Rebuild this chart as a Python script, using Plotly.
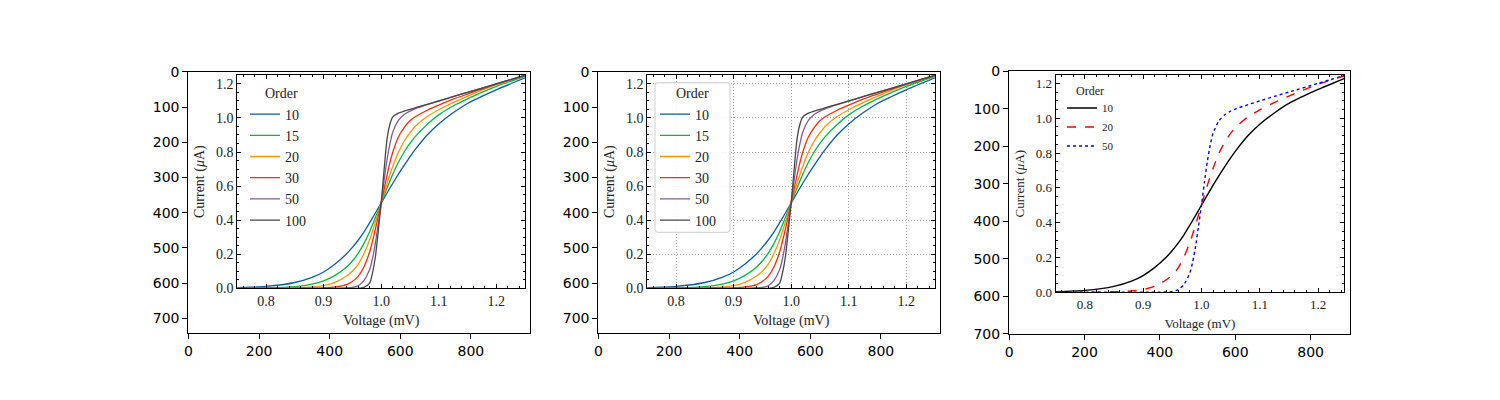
import plotly.graph_objects as go

# ---------------- data ----------------
voltage = [0.75, 0.80, 0.85, 0.88, 0.90, 0.92, 0.94, 0.95, 0.96, 0.97, 0.98, 0.985,
           0.99, 0.995, 1.00, 1.005, 1.01, 1.015, 1.02, 1.03, 1.04, 1.05, 1.06,
           1.08, 1.10, 1.125, 1.15, 1.20, 1.25]

current_10 = [0.004, 0.011, 0.034, 0.064, 0.096, 0.143, 0.203, 0.240, 0.282, 0.330, 0.385, 0.413,
              0.442, 0.471, 0.500, 0.529, 0.558, 0.587, 0.615, 0.670, 0.722, 0.772, 0.818,
              0.900, 0.965, 1.030, 1.085, 1.165, 1.235]
current_15 = [0.000, 0.002, 0.010, 0.025, 0.044, 0.076, 0.125, 0.160, 0.205, 0.262, 0.332, 0.373,
              0.415, 0.457, 0.500, 0.543, 0.586, 0.628, 0.668, 0.740, 0.800, 0.850, 0.893,
              0.962, 1.018, 1.070, 1.112, 1.185, 1.245]
current_20 = [0.000, 0.000, 0.003, 0.008, 0.016, 0.035, 0.072, 0.100, 0.140, 0.203, 0.285, 0.335,
              0.389, 0.444, 0.500, 0.557, 0.613, 0.665, 0.713, 0.798, 0.863, 0.913, 0.953,
              1.008, 1.048, 1.090, 1.127, 1.195, 1.248]
current_30 = [0.000, 0.000, 0.000, 0.001, 0.003, 0.008, 0.022, 0.040, 0.070, 0.125, 0.213, 0.277,
              0.348, 0.423, 0.500, 0.580, 0.660, 0.735, 0.797, 0.888, 0.943, 0.983, 1.008,
              1.045, 1.075, 1.110, 1.140, 1.198, 1.250]
current_50 = [0.000, 0.000, 0.000, 0.000, 0.000, 0.000, 0.002, 0.005, 0.015, 0.045, 0.110, 0.175,
              0.265, 0.380, 0.500, 0.630, 0.750, 0.845, 0.915, 0.985, 1.020, 1.040, 1.055,
              1.078, 1.099, 1.125, 1.150, 1.200, 1.250]
current_100 = [0.000, 0.000, 0.000, 0.000, 0.000, 0.000, 0.000, 0.000, 0.000, 0.005, 0.030, 0.090,
               0.185, 0.335, 0.500, 0.690, 0.870, 0.960, 1.005, 1.028, 1.040, 1.050, 1.060,
               1.080, 1.100, 1.125, 1.150, 1.200, 1.250]

orders_full = ["10", "15", "20", "30", "50", "100"]
currents_full = [current_10, current_15, current_20, current_30, current_50, current_100]
colors_full = ["#0C5DA5", "#00B945", "#FF9500", "#FF2C00", "#845B97", "#474747"]

orders_bw = ["10", "20", "50"]
currents_bw = [current_10, current_20, current_50]
colors_bw = ["#000000", "#FF0000", "#0000FF"]
dashes_bw = ["solid", "dash", "dot"]

legend_title = "Order"

outer_xticks = [0, 200, 400, 600, 800]
outer_yticks = [0, 100, 200, 300, 400, 500, 600, 700]
inner_xticks = [0.8, 0.9, 1.0, 1.1, 1.2]
inner_yticks = [0.0, 0.2, 0.4, 0.6, 0.8, 1.0, 1.2]

# image sizes (pixels) of the three embedded pictures
img_w = [968, 968, 905]
img_h = [743, 743, 701]

# ---------------- figure geometry ----------------
# The page has an 8px body margin; the figure is sized so it fits the window.
OFF = 8
FIG_W = 1492
FIG_H = 392


def lx(px):
    return (px - OFF) / FIG_W


def ly(px):
    return 1 - (px - OFF) / FIG_H


def px_x(a, b):
    return [lx(a), lx(b)]


def px_y(top, bottom):
    return [ly(bottom), ly(top)]


fig = go.Figure()

SERIF = "Liberation Serif"
SANS = "DejaVu Sans"

outer_dom_x = [px_x(188.3, 530.0), px_x(598.3, 940.0), px_x(1009.0, 1350.0)]
outer_dom_y = [px_y(71.7, 333.3), px_y(71.7, 333.3), px_y(71.0, 334.0)]
inner_dom_x = [px_x(237.3, 525.0), px_x(647.3, 935.0), px_x(1055.7, 1344.3)]
inner_dom_y = [px_y(75.0, 288.3), px_y(75.0, 288.3), px_y(75.0, 292.3)]
inner_xrange = [[0.75, 1.25], [0.75, 1.25], [0.75, 1.245]]
inner_yrange = [[0.0, 1.252], [0.0, 1.252], [0.0, 1.248]]
inner_font = [14, 14, 13]

layout = dict(
    width=FIG_W, height=FIG_H,
    margin=dict(l=0, r=0, t=0, b=0, autoexpand=False),
    paper_bgcolor="white", plot_bgcolor="rgba(0,0,0,0)",
    showlegend=True,
)

for k in range(3):
    ox = 2 * k + 1
    ix = 2 * k + 2
    oxn = "xaxis" if ox == 1 else f"xaxis{ox}"
    oyn = "yaxis" if ox == 1 else f"yaxis{ox}"
    ixn = f"xaxis{ix}"
    iyn = f"yaxis{ix}"
    oxr = "x" if ox == 1 else f"x{ox}"
    oyr = "y" if ox == 1 else f"y{ox}"
    ixr = f"x{ix}"
    iyr = f"y{ix}"

    # outer (pixel) axes
    layout[oxn] = dict(domain=outer_dom_x[k], anchor=oyr, range=[-0.5, img_w[k] - 0.5],
                       tickvals=outer_xticks, ticks="outside", ticklen=5, tickwidth=1,
                       tickcolor="black", showline=True, linecolor="black", linewidth=1,
                       mirror=True, showgrid=False, zeroline=False, automargin=False,
                       tickfont=dict(family=SANS, size=14, color="black"))
    layout[oyn] = dict(domain=outer_dom_y[k], anchor=oxr, range=[img_h[k] - 0.5, -0.5],
                       tickvals=outer_yticks, ticks="outside", ticklen=5, tickwidth=1,
                       tickcolor="black", showline=True, linecolor="black", linewidth=1,
                       mirror=True, showgrid=False, zeroline=False, automargin=False,
                       tickfont=dict(family=SANS, size=14, color="black"))
    fig.add_trace(go.Scatter(x=[None], y=[None], xaxis=oxr, yaxis=oyr,
                             showlegend=False, hoverinfo="skip"))

    grid = (k == 1)
    fs = inner_font[k]
    layout[ixn] = dict(domain=inner_dom_x[k], anchor=iyr, range=inner_xrange[k],
                       tickvals=inner_xticks, tickformat=".1f", ticks="inside",
                       ticklen=4, tickwidth=0.8, tickcolor="black",
                       minor=dict(ticks="inside", ticklen=2, tickwidth=0.7, dtick=0.02,
                                  tick0=0.0, tickcolor="black", showgrid=False),
                       showline=True, linecolor="black", linewidth=1, mirror="ticks",
                       showgrid=grid, gridcolor="#a0a0a0", griddash="1px,2px", gridwidth=0.8,
                       zeroline=False, automargin=False,
                       tickfont=dict(family=SERIF, size=fs, color="#222"),
                       title=dict(text="Voltage (mV)", standoff=7,
                                  font=dict(family=SERIF, size=fs, color="#222")))
    layout[iyn] = dict(domain=inner_dom_y[k], anchor=ixr, range=inner_yrange[k],
                       tickvals=inner_yticks, tickformat=".1f", ticks="inside",
                       ticklen=4, tickwidth=0.8, tickcolor="black",
                       minor=dict(ticks="inside", ticklen=2, tickwidth=0.7, dtick=0.05,
                                  tick0=0.0, tickcolor="black", showgrid=False),
                       showline=True, linecolor="black", linewidth=1, mirror="ticks",
                       showgrid=grid, gridcolor="#a0a0a0", griddash="1px,2px", gridwidth=0.8,
                       zeroline=False, automargin=False,
                       tickfont=dict(family=SERIF, size=fs, color="#222"),
                       title=dict(text="Current (<i>μ</i>A)", standoff=8,
                                  font=dict(family=SERIF, size=fs, color="#222")))

    lg = "legend" if k == 0 else f"legend{k + 1}"
    if k < 2:
        for name, cur, col in zip(orders_full, currents_full, colors_full):
            fig.add_trace(go.Scatter(x=voltage, y=cur, mode="lines", name=name,
                                     line=dict(color=col, width=1.3, shape="spline",
                                               smoothing=0.6),
                                     xaxis=ixr, yaxis=iyr, legend=lg))
    else:
        for name, cur, col, d in zip(orders_bw, currents_bw, colors_bw, dashes_bw):
            fig.add_trace(go.Scatter(x=voltage, y=cur, mode="lines", name=name,
                                     line=dict(color=col, width=1.4, dash=d,
                                               shape="spline", smoothing=0.6),
                                     xaxis=ixr, yaxis=iyr, legend=lg))

layout["legend"] = dict(x=lx(245.0), y=ly(98.5), xanchor="left", yanchor="top",
                        bgcolor="rgba(0,0,0,0)", borderwidth=0,
                        font=dict(family=SERIF, size=14, color="#222"))
layout["legend2"] = dict(x=lx(655.0), y=ly(98.5), xanchor="left", yanchor="top",
                         bgcolor="rgba(0,0,0,0)", borderwidth=0,
                         font=dict(family=SERIF, size=14, color="#222"))
layout["legend3"] = dict(x=lx(1062.0), y=ly(93.5), xanchor="left", yanchor="top",
                         bgcolor="rgba(0,0,0,0)", borderwidth=0,
                         font=dict(family=SERIF, size=11, color="#222"))

# legend titles
title_pos = [(281.0, 94.0, 14), (692.0, 94.0, 14), (1090.0, 91.0, 12)]
layout["annotations"] = [
    dict(text=legend_title, x=lx(px), y=ly(py), xref="paper", yref="paper",
         xanchor="center", yanchor="middle", showarrow=False,
         font=dict(family=SERIF, size=s, color="#222"))
    for px, py, s in title_pos
]

# rounded frame of the second legend
x0, x1 = lx(655.0), lx(730.0)
y0, y1 = ly(232.3), ly(82.7)
rx, ry = 3.0 / FIG_W, 3.0 / FIG_H
frame_path = (f"M {x0 + rx},{y0} L {x1 - rx},{y0} Q {x1},{y0} {x1},{y0 + ry} "
              f"L {x1},{y1 - ry} Q {x1},{y1} {x1 - rx},{y1} "
              f"L {x0 + rx},{y1} Q {x0},{y1} {x0},{y1 - ry} "
              f"L {x0},{y0 + ry} Q {x0},{y0} {x0 + rx},{y0} Z")
layout["shapes"] = [dict(type="path", path=frame_path, xref="paper", yref="paper",
                         fillcolor="rgba(255,255,255,0.85)",
                         line=dict(color="#cccccc", width=1), layer="above")]

fig.update_layout(**layout)
fig.write_html("out.html")
